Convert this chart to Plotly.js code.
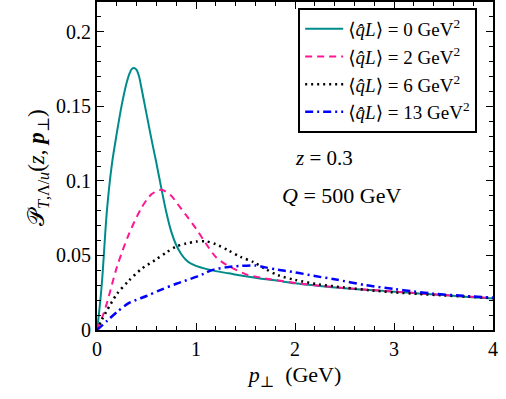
<!DOCTYPE html>
<html><head><meta charset="utf-8">
<script src="https://cdn.plot.ly/plotly-3.0.1.min.js"></script>
<style>body{margin:0;}#plot{width:506px;height:399px;}</style>
</head><body><div id="plot"></div>
<script>
// p_perp values (GeV) and curves for each <qhat L>
const x0 = [0,0.02,0.05,0.1,0.15,0.2,0.25,0.3,0.325,0.35,0.375,0.4,0.425,0.45,0.5,0.55,0.6,0.65,0.7,0.75,0.8,0.85,0.9,0.95,1.0,1.1,1.2,1.33,1.5,1.66,1.8,2.0,2.25,2.5,2.75,3.0,3.25,3.5,3.75,4.0];
const y0 = [0,0.011,0.032,0.080,0.111,0.132,0.151,0.166,0.1715,0.175,0.1758,0.1745,0.170,0.162,0.145,0.128,0.112,0.095,0.079,0.066,0.057,0.051,0.047,0.0445,0.043,0.041,0.0395,0.038,0.036,0.0344,0.0333,0.0313,0.0295,0.028,0.0268,0.0257,0.0245,0.0234,0.0222,0.0211];
const x2 = [0,0.05,0.1,0.2,0.32,0.45,0.55,0.65,0.75,0.82,0.9,1.0,1.1,1.2,1.3,1.4,1.5,1.66,1.8,2.0,2.25,2.5,2.75,3.0,3.25,3.5,3.75,4.0];
const y2 = [0,0.008,0.018,0.042,0.064,0.082,0.091,0.094,0.090,0.084,0.077,0.068,0.058,0.049,0.044,0.0405,0.0375,0.035,0.0335,0.0316,0.0297,0.0282,0.0269,0.0258,0.0246,0.0235,0.0224,0.0213];
const x6 = [0,0.05,0.1,0.2,0.32,0.45,0.59,0.7,0.8,0.9,1.0,1.1,1.2,1.33,1.45,1.58,1.7,1.83,2.0,2.25,2.5,2.75,3.0,3.25,3.5,3.75,4.0];
const y6 = [0,0.007,0.013,0.024,0.033,0.041,0.047,0.052,0.056,0.058,0.0593,0.0595,0.0575,0.0533,0.049,0.0456,0.041,0.0367,0.0336,0.0305,0.0285,0.0267,0.0252,0.0242,0.0232,0.0223,0.0215];
const x13 = [0,0.1,0.2,0.32,0.5,0.65,0.8,1.0,1.08,1.16,1.3,1.45,1.6,1.7,1.83,2.0,2.2,2.4,2.72,3.0,3.2,3.4,3.7,4.0];
const y13 = [0,0.006,0.012,0.018,0.0228,0.0271,0.031,0.0356,0.0378,0.0402,0.042,0.043,0.0433,0.042,0.0404,0.0387,0.0362,0.034,0.030,0.0275,0.0259,0.0244,0.0229,0.0217];
const names = ['⟨<i>q̂L</i>⟩ = 0 GeV<sup>2</sup>','⟨<i>q̂L</i>⟩ = 2 GeV<sup>2</sup>','⟨<i>q̂L</i>⟩ = 6 GeV<sup>2</sup>','⟨<i>q̂L</i>⟩ = 13 GeV<sup>2</sup>'];

const serif = "'Liberation Serif', 'DejaVu Serif', serif";
const traces = [
  {x:x0,y:y0,name:names[0],mode:'lines',line:{color:'#008b8b',width:2,shape:'spline',smoothing:0.8}},
  {x:x2,y:y2,name:names[1],mode:'lines',line:{color:'#ff1493',width:2,dash:'7px,5px',shape:'spline',smoothing:0.8}},
  {x:x6,y:y6,name:names[2],mode:'lines',line:{color:'#000000',width:2.5,dash:'2px,4px',shape:'spline',smoothing:0.8}},
  {x:x13,y:y13,name:names[3],mode:'lines',line:{color:'#0000ff',width:2.5,dash:'8px,4px,2px,4px',shape:'spline',smoothing:0.8}}
];
const axisCommon = {showgrid:false,zeroline:false,showline:true,linecolor:'#000',linewidth:2,mirror:'allticks',ticks:'inside',ticklen:7,tickwidth:1,tickcolor:'#000',tickfont:{family:serif,size:20,color:'#000'}};
const layout = {
  width:506,height:399,
  margin:{l:97,r:13,t:2,b:69},
  paper_bgcolor:'#fff',plot_bgcolor:'#fff',
  font:{family:serif,color:'#000'},
  xaxis:Object.assign({},axisCommon,{range:[0,4],dtick:1,tick0:0,
    minor:{dtick:0.2,ticks:'inside',ticklen:4,tickcolor:'#000'},
    title:{text:'<i>p</i><sub>⊥</sub>  (GeV)',font:{family:serif,size:22},standoff:8}}),
  yaxis:Object.assign({},axisCommon,{range:[0,0.22],tickvals:[0,0.05,0.1,0.15,0.2],ticktext:['0','0.05','0.1','0.15','0.2'],
    minor:{dtick:0.01,ticks:'inside',ticklen:4,tickcolor:'#000'}}),
  legend:{x:0.508,y:0.982,xanchor:'left',yanchor:'top',bgcolor:'#fff',bordercolor:'#000',borderwidth:2,
    font:{family:serif,size:19,color:'#000'},tracegroupgap:0,itemwidth:38},
  showlegend:true,
  annotations:[
    {text:'<i>z</i> = 0.3',xref:'paper',yref:'paper',x:(324-97)/396,y:(330-158)/328,showarrow:false,font:{family:serif,size:21}},
    {text:'<i>Q</i> = 500 GeV',xref:'paper',yref:'paper',x:(341-97)/396,y:(330-195)/328,showarrow:false,font:{family:serif,size:22}},
    {text:'𝒫<sub><i>T</i>,Λ/<i>u</i></sub>(<i>z</i>, <b><i>p</i></b><sub>⊥</sub>)',xref:'paper',yref:'paper',x:(22-97)/396,y:(330-168)/328,textangle:-90,showarrow:false,font:{family:serif,size:23}}
  ]
};
Plotly.newPlot('plot',traces,layout,{displayModeBar:false,staticPlot:true});
</script></body></html>
